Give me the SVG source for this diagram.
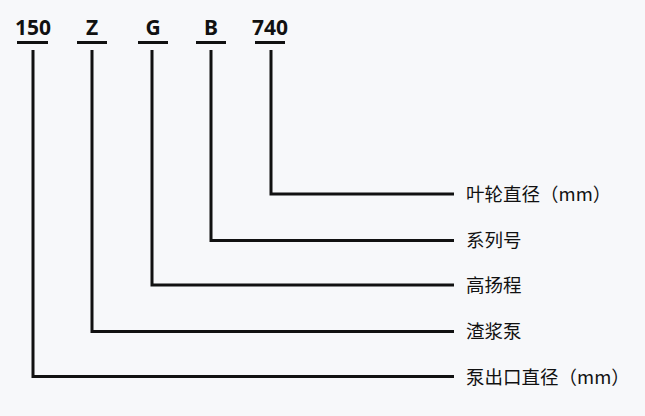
<svg xmlns="http://www.w3.org/2000/svg" width="645" height="416" viewBox="0 0 645 416">
<style>
.code{font-family:"Noto Sans","Open Sans","Liberation Sans",sans-serif;font-weight:bold;font-size:21px;fill:#111;text-anchor:middle}
.lab{font-family:"Noto Sans CJK SC","Noto Sans",sans-serif;font-size:18.5px;fill:#111}
.ln{stroke:#111;stroke-width:3;fill:none}
</style>
<rect width="645" height="416" fill="#f7f8fa"/>
<g id="n150"><text class="code" x="33" y="35">150</text><line class="ln" x1="17" y1="42.5" x2="48" y2="42.5"/></g>
<g id="nZ"><text class="code" x="92" y="35">Z</text><line class="ln" x1="77" y1="42.5" x2="107" y2="42.5"/></g>
<g id="nG"><text class="code" x="153" y="35">G</text><line class="ln" x1="138" y1="42.5" x2="168" y2="42.5"/></g>
<g id="nB"><text class="code" x="211" y="35">B</text><line class="ln" x1="196" y1="42.5" x2="226" y2="42.5"/></g>
<g id="n740"><text class="code" x="270" y="35">740</text><line class="ln" x1="255" y1="42.5" x2="285" y2="42.5"/></g>
<g id="l1"><text class="lab" x="466" y="201">叶轮直径（mm）</text></g>
<g id="l2"><text class="lab" x="466" y="247">系列号</text></g>
<g id="l3"><text class="lab" x="466" y="292">高扬程</text></g>
<g id="l4"><text class="lab" x="466" y="338">渣浆泵</text></g>
<g id="l5"><text class="lab" x="466" y="383.5">泵出口直径（mm）</text></g>
<g id="connectors">
<polyline class="ln" points="271,50 271,194 454,194"/>
<polyline class="ln" points="211,50 211,240.5 454,240.5"/>
<polyline class="ln" points="152,50 152,285 454,285"/>
<polyline class="ln" points="92,50 92,331.5 454,331.5"/>
<polyline class="ln" points="33,50 33,376.5 454,376.5"/>
</g>
</svg>
